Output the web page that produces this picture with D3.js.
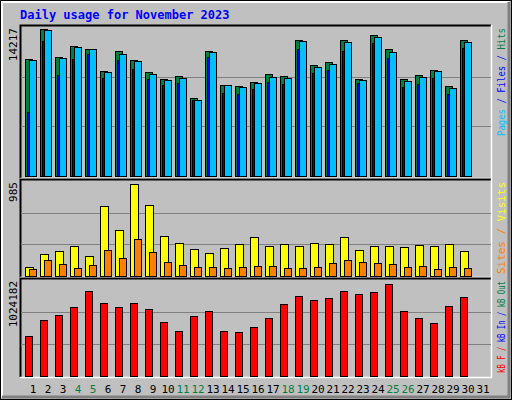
<!DOCTYPE html>
<html><head><meta charset="utf-8">
<script src="https://cdn.jsdelivr.net/npm/d3@7"></script>
<style>body{margin:0;background:#fff}svg text{font-family:"DejaVu Sans Mono",monospace}</style>
</head><body><svg id="chart" width="512" height="400"></svg>
<script>
const days = d3.range(1, 32);
const weekends = [4, 5, 11, 12, 18, 19, 25, 26];
const hits = [11314,14217,11508,12572,12282,10154,12089,11218,10058,9381,9671,7543,12089,8800,8704,9091,9864,9671,13153,10735,11025,13153,9381,13636,12282,9381,9768,10251,8704,13153];
const files = [6189,13055,9767,11314,11797,9477,11217,10347,9380,8800,8993,7349,11507,8026,7929,8413,9090,8896,12281,9960,10250,12088,8993,12861,11411,8606,8896,9477,7929,12378];
const pages = [11218,14118,11411,12474,12282,10057,11797,11121,9863,9283,9477,7349,11991,8800,8606,8993,9573,9477,13055,10540,10830,12958,9283,13441,11991,9187,9573,10154,8510,12958];
const visits = [93,232,265,318,211,746,489,985,757,425,350,286,243,297,340,414,318,340,318,350,340,414,275,318,318,307,329,318,340,265];
const sites = [72,168,125,82,115,275,190,393,254,147,115,93,93,82,93,104,104,82,82,93,136,168,147,136,125,93,104,72,93,82];
const kbytes = [443409,622113,677958,767310,946014,811986,767310,811986,744972,599775,499254,666789,722634,499254,488085,543930,644451,800817,890169,845493,867831,946014,912507,934845,1024182,722634,644451,588606,778479,878991];

const svg = d3.select('#chart');
svg.append('rect').attr('width', 512).attr('height', 400).attr('fill', '#c0c0c0');
// outer bevel
svg.append('rect').attr('x', 0.5).attr('y', 0.5).attr('width', 511).attr('height', 399).attr('fill', 'none').attr('stroke', '#000');
svg.append('path').attr('d', 'M2,397V2H509').attr('stroke', '#fff').attr('stroke-width', 2).attr('fill', 'none');
svg.append('path').attr('d', 'M2,397H509V2').attr('stroke', '#808080').attr('stroke-width', 3).attr('fill', 'none');

svg.append('text').attr('x', 20).attr('y', 19).attr('fill', '#0000ff')
  .attr('font-size', 12).attr('font-weight', 'bold').text('Daily usage for November 2023');

const x = d3.scaleLinear().domain([1, 31]).range([25, 475]);

const panels = [
  { top: 25, base: 176, bottom: 178, max: 14217, maxPx: 147, label: '14217', len: 108,
    legend: [['Pages', '#00c0ff'], [' / ', '#0000ff'], ['Files', '#0000ff'], [' / ', '#0000ff'], ['Hits', '#008040']] },
  { top: 179, base: 276, bottom: 277, max: 985, maxPx: 92, label: '985', len: 92,
    legend: [['Sites', '#ff8000'], [' / ', '#ff8000'], ['Visits', '#ffff00']] },
  { top: 278, base: 376, bottom: 377, max: 1024182, maxPx: 91.7, label: '1024182', len: 92,
    legend: [['kB F', '#ff0000'], [' / ', '#ff0000'], ['kB In', '#0000ff'], [' / ', '#0000ff'], ['kB Out', '#008040']] }
];

panels.forEach(p => {
  p.y = d3.scaleLinear().domain([0, p.max]).range([p.base, p.base - p.maxPx]);
  const h = p.base - p.top - 2;
  svg.append('path').attr('d', `M20.5,${p.bottom}V${p.top + 0.5}H491`).attr('stroke', '#000').attr('stroke-width', 2).attr('fill', 'none');
  svg.append('path').attr('d', `M20,${p.bottom + 0.5}H491.5V${p.top}`).attr('stroke', '#fff').attr('stroke-width', 1.5).attr('fill', 'none');
  [1, 2].forEach(k => {
    const gy = Math.round(p.base - k * h / 3) + 0.5;
    svg.append('line').attr('x1', 21).attr('x2', 491).attr('y1', gy).attr('y2', gy).attr('stroke', '#808080');
  });
  svg.append('text').attr('transform', `translate(17,${p.top + 3}) rotate(-90)`)
    .attr('text-anchor', 'end').attr('font-size', 11).attr('fill', '#000').text(p.label);
  const t = svg.append('text').attr('transform', `translate(505,${p.top + 3 + p.len}) rotate(-90)`)
    .attr('font-size', 10).attr('textLength', p.len).attr('lengthAdjust', 'spacingAndGlyphs');
  p.legend.forEach(([s, c]) => t.append('tspan').attr('fill', c).attr('xml:space', 'preserve').text(s));
});

function bars(vals, panel, dx, w, fill) {
  svg.append('g').selectAll('rect').data(vals).join('rect')
    .attr('x', (d, i) => x(i + 1) + dx + 0.5)
    .attr('y', d => Math.round(panel.y(d)) + 0.5)
    .attr('width', w)
    .attr('height', d => panel.base - Math.round(panel.y(d)))
    .attr('fill', fill).attr('stroke', '#000').attr('stroke-width', 1);
}
bars(hits, panels[0], 0, 7, '#008040');
bars(files, panels[0], 2, 6, '#0000ff');
bars(pages, panels[0], 4, 7, '#00c0ff');
bars(visits, panels[1], 0, 8, '#ffff00');
bars(sites, panels[1], 4, 7, '#ff8000');
bars(kbytes, panels[2], 0, 7, '#ff0000');

svg.append('g').selectAll('text').data(days).join('text')
  .attr('x', d => x(d) + 8).attr('y', 393).attr('text-anchor', 'middle').attr('font-size', 11)
  .attr('fill', d => weekends.includes(d) ? '#008040' : '#000').text(d => d);
</script></body></html>
